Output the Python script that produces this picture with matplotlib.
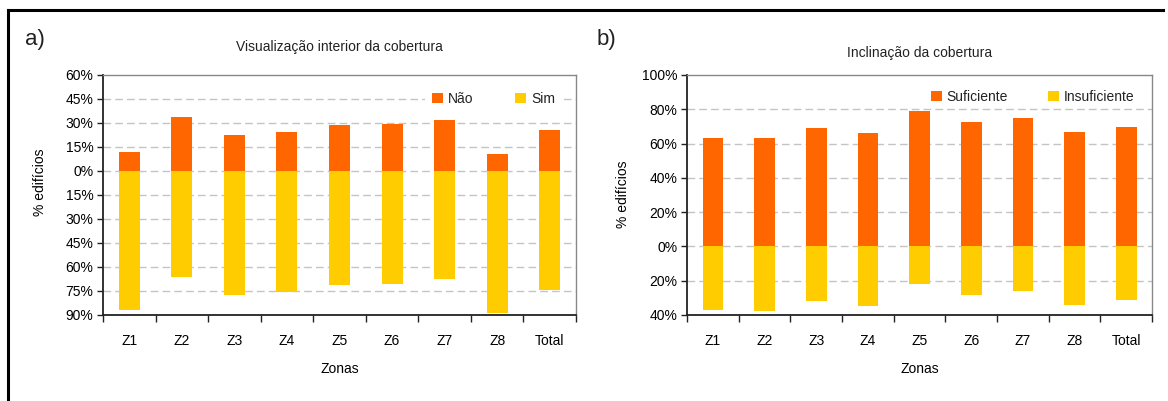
import matplotlib
matplotlib.use("Agg")
import matplotlib.pyplot as plt
import numpy as np
from matplotlib.ticker import FuncFormatter, FixedLocator
from matplotlib.lines import Line2D

# ---- data ----
zonas = ["Z1", "Z2", "Z3", "Z4", "Z5", "Z6", "Z7", "Z8", "Total"]
nao = [12.0, 33.5, 22.8, 24.1, 28.5, 29.3, 31.7, 10.8, 25.4]
sim = [86.8, 66.5, 77.2, 75.8, 71.0, 70.4, 67.8, 88.7, 74.2]
suficiente = [63.5, 63.0, 68.8, 65.9, 78.8, 72.3, 74.7, 66.5, 69.4]
insuficiente = [37.0, 37.6, 31.8, 34.7, 21.8, 28.3, 25.9, 34.1, 31.2]
ticks_a = [60, 45, 30, 15, 0, -15, -30, -45, -60, -75, -90]
ticks_b = [100, 80, 60, 40, 20, 0, -20, -40]

ORANGE = "#FF6600"
YELLOW = "#FFCC00"

fam = ["Liberation Sans Narrow", "Liberation Sans", "DejaVu Sans"]
plt.rcParams["font.family"] = fam
plt.rcParams["text.color"] = "#222222"

FS = 10

W, H = 1168, 401
fig = plt.figure(figsize=(W / 100, H / 100), dpi=100)


def px_axes(l, t, r, b):
    return fig.add_axes([l / W, 1 - b / H, (r - l) / W, (b - t) / H])


def style(ax, ticks, ylim, ylab_x, ylab_y):
    x = np.arange(len(zonas))
    ax.set_xlim(-0.5, len(zonas) - 0.5)
    ax.set_ylim(*ylim)
    ax.yaxis.set_major_locator(FixedLocator(ticks))
    ax.yaxis.set_major_formatter(FuncFormatter(lambda v, p: f"{abs(v):.0f}%"))
    for t in ticks:
        if t != ylim[1]:
            ax.axhline(t, color="#c4c4c4", lw=1.0, ls=(0, (5.5, 3)), zorder=0)
    ax.set_xticks(x)
    ax.set_xticklabels(zonas)
    ax.set_xticks(np.arange(-0.5, len(zonas)), minor=True)
    ax.tick_params(axis="x", which="major", length=0, pad=14, labelsize=FS)
    ax.tick_params(axis="x", which="minor", length=5, width=1, color="#222222", direction="out")
    ax.tick_params(axis="y", length=4, width=1, color="#222222", labelsize=FS, pad=3)
    for s in ["left", "bottom"]:
        ax.spines[s].set_color("#222222")
        ax.spines[s].set_linewidth(1.3)
    for s in ["top", "right"]:
        ax.spines[s].set_color("#888888")
        ax.spines[s].set_linewidth(1.0)
    ax.set_xlabel("Zonas", fontsize=FS, labelpad=10)
    ax.set_ylabel("% edifícios", fontsize=FS)
    ax.yaxis.set_label_coords(ylab_x, ylab_y)


x = np.arange(len(zonas))

# ---- panel a ----
axa = px_axes(103, 75, 576, 315)
axa.bar(x, nao, width=0.4, color=ORANGE, label="Não", zorder=2)
axa.bar(x, [-v for v in sim], width=0.4, color=YELLOW, label="Sim", zorder=2)
style(axa, ticks_a, (-90, 60), (47 - 103) / 473, (315 - 182) / 240)
axa.set_title("Visualização interior da cobertura", fontsize=FS, pad=17)
leg = axa.legend(loc="upper right", ncol=2, frameon=True, fontsize=FS,
                 bbox_to_anchor=(0.985, 0.988), handlelength=0.8, handleheight=0.8,
                 handletextpad=0.35, columnspacing=3.0, borderpad=0.5, fancybox=False)
leg.get_frame().set_edgecolor("none")
leg.get_frame().set_facecolor("white")
leg.get_frame().set_alpha(1)

# ---- panel b ----
axb = px_axes(687, 75, 1152, 315)
axb.bar(x, suficiente, width=0.4, color=ORANGE, label="Suficiente", zorder=2)
axb.bar(x, [-v for v in insuficiente], width=0.4, color=YELLOW, label="Insuficiente", zorder=2)
style(axb, ticks_b, (-40, 100), (630 - 687) / 465, (315 - 194) / 240)
axb.set_title("Inclinação da cobertura", fontsize=FS, pad=13)
legb = axb.legend(loc="upper right", ncol=2, frameon=False, fontsize=FS,
                  bbox_to_anchor=(0.99, 0.99), handlelength=0.8, handleheight=0.8,
                  handletextpad=0.35, columnspacing=2.9)

# panel letters
fig.text(25 / W, 1 - 39 / H, "a)", fontsize=16, va="center", ha="left")
fig.text(597 / W, 1 - 39 / H, "b)", fontsize=16, va="center", ha="left")

# outer frame (top and left edges)
fig.add_artist(Line2D([8 / W, 1163 / W], [1 - 10 / H, 1 - 10 / H], color="black", lw=2.2,
                      transform=fig.transFigure))
fig.add_artist(Line2D([8 / W, 8 / W], [1 - 10 / H, 0], color="black", lw=2.2,
                      transform=fig.transFigure))

fig.savefig("out.png", dpi=100)
